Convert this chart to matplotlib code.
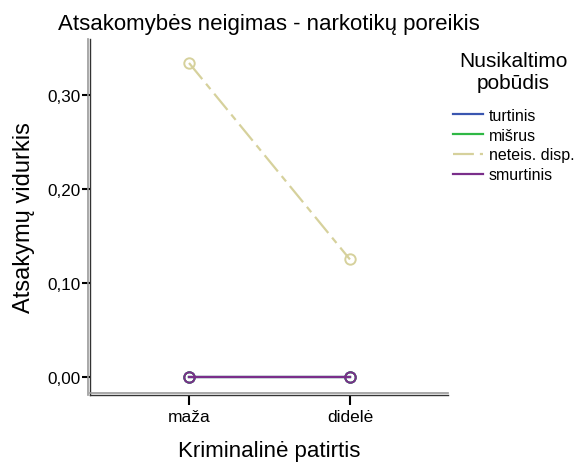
import matplotlib
matplotlib.use("Agg")
import matplotlib.pyplot as plt
from matplotlib.lines import Line2D
from matplotlib import transforms

plt.rcParams["font.family"] = ["Liberation Sans", "DejaVu Sans"]

categories = ["maža", "didelė"]
series_names = ["turtinis", "mišrus", "neteis. disp.", "smurtinis"]
turtinis = [0.0, 0.0]
misrus = [0.0, 0.0]
neteis = [0.334, 0.125]
smurtinis = [0.0, 0.0]
yticks = [0.0, 0.1, 0.2, 0.3]
ytick_labels = ["0,00", "0,10", "0,20", "0,30"]

colors = ["#3a56b0", "#2fb845", "#d6d19c", "#7a2e8a"]
styles = ["-", "-", (0, (9.4, 2.7, 3.1, 2.7)), "-"]
values = [turtinis, misrus, neteis, smurtinis]

fig = plt.figure(figsize=(5.81, 4.64), dpi=100)
ax = fig.add_axes([0.155, 0.147, 0.616, 0.767])

x = list(range(len(categories)))
for name, vals, c, ls in zip(series_names, values, colors, styles):
    ax.plot(x, vals, color=c, linestyle=ls, lw=1.6, marker="o", ms=7.5,
            mfc="none", mec=c, mew=1.4, label=name)

ax.set_xlim(-0.615, 1.609)
ax.set_ylim(-0.019, 0.3596)
ax.set_xticks(x)
ax.set_xticklabels(categories, fontsize=12.5)
ax.set_yticks(yticks)
ax.set_yticklabels(ytick_labels, fontsize=12.3)
ax.tick_params(axis="y", direction="out", length=6, width=1.5, pad=1)
ax.tick_params(axis="x", direction="out", length=7, width=1.5, pad=3)

for s in ["top", "right"]:
    ax.spines[s].set_visible(False)
for s in ["left", "bottom"]:
    ax.spines[s].set_color("#333333")
    ax.spines[s].set_linewidth(1.0)

# SPSS style double frame line
off_l = transforms.offset_copy(ax.transAxes, fig=fig, x=-2, y=0, units="dots")
off_b = transforms.offset_copy(ax.transAxes, fig=fig, x=0, y=2, units="dots")
fig.add_artist(Line2D([0, 0], [0, 1], transform=off_l, color="#999999", lw=1.2))
fig.add_artist(Line2D([0, 1], [0, 0], transform=off_b, color="#999999", lw=1.2))

ax.set_title("Atsakomybės neigimas - narkotikų poreikis", fontsize=16, pad=7)
ax.set_xlabel("Kriminalinė patirtis", fontsize=16, labelpad=12)
ax.set_ylabel("Atsakymų vidurkis", fontsize=17, labelpad=9)

handles = [Line2D([], [], color=c, linestyle=ls, lw=1.6) for c, ls in zip(colors, styles)]
leg = ax.legend(handles, series_names, title="Nusikaltimo\npobūdis",
                loc="upper left", bbox_to_anchor=(1.0, 0.98), frameon=False,
                fontsize=11.5, title_fontsize=15, handlelength=1.9,
                handletextpad=0.35, labelspacing=0.3, borderpad=0,
                borderaxespad=0.3, alignment="center")
leg.get_title().set_multialignment("center")
leg._legend_box.sep = 11.5

fig.savefig("out.png", dpi=100)
